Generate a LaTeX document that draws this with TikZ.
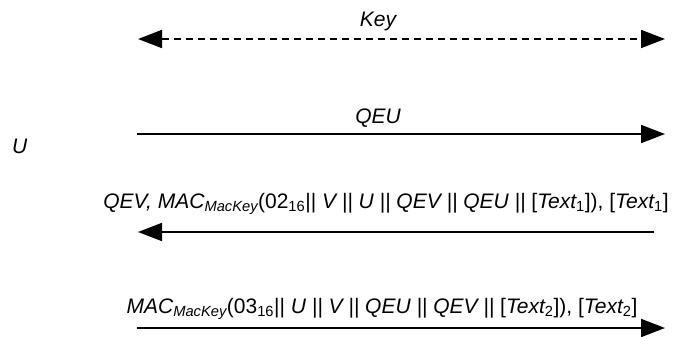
\documentclass[tikz,border=0pt]{standalone}
\usepackage{fontspec}
\setmainfont{Liberation Sans}
\usetikzlibrary{arrows.meta}
\newcommand{\cc}{ || }
\newcommand{\mac}{\textit{MAC}\textsubscript{\textit{MacKey}}}

\begin{document}
\begin{tikzpicture}[x=1pt,y=-1pt,font=\fontsize{21}{24}\selectfont\itshape,
  >={Triangle[length=24pt,width=18pt]},
  msg/.style={line width=1.8pt},
  lbl/.style={anchor=base,inner sep=0pt}]
\useasboundingbox (0,0) rectangle (675,337);
% end points
\coordinate (kl) at (138,39);
\coordinate (kr) at (665,39);
\coordinate (ql) at (137,134);
\coordinate (qr) at (665,134);
\coordinate (vl) at (138,232);
\coordinate (vr) at (654,232);
\coordinate (ml) at (137,328);
\coordinate (mr) at (665,328);
% messages
\draw[msg,dash pattern=on 7pt off 5pt,<->] (kl) -- (kr);
\draw[msg,->] (ql) -- (qr);
\draw[msg,->] (vr) -- (vl);
\draw[msg,->] (ml) -- (mr);
% labels
\node[lbl] (key) at (378,27) {Key};
\node[lbl] (qeu) at (378,123) {QEU};
\node[lbl,anchor=base west] (u) at (12,153) {U};
\node[lbl] (vmsg) at (386,208) {QEV, \mac\upshape(02\textsubscript{16}|| \itshape V\cc U\cc QEV\cc QEU\cc\upshape[\itshape Text\upshape\textsubscript{1}]), [\itshape Text\upshape\textsubscript{1}]};
\node[lbl] (umsg) at (382,313) {\mac\upshape(03\textsubscript{16}|| \itshape U\cc V\cc QEU\cc QEV\cc\upshape[\itshape Text\upshape\textsubscript{2}]), [\itshape Text\upshape\textsubscript{2}]};
\end{tikzpicture}
\end{document}
